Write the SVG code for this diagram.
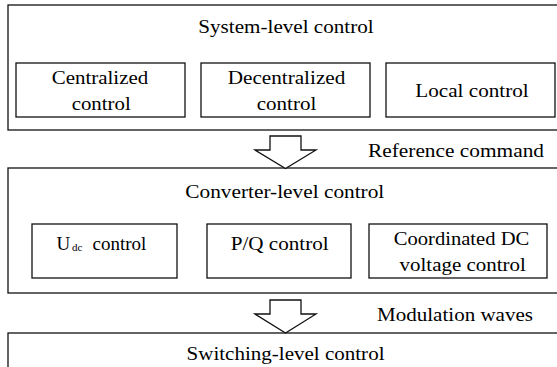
<svg xmlns="http://www.w3.org/2000/svg" width="557" height="367" viewBox="0 0 557 367">
<style>
rect{fill:none;stroke:#111;stroke-width:1.3}
.arr{fill:#fff;stroke:#111;stroke-width:1.3;stroke-linejoin:miter}
text{font-family:'Liberation Serif','Times New Roman',serif;font-size:19px;fill:#000}
.sub{font-size:11px}
</style>
<rect x="0" y="0" width="557" height="367" style="fill:#fff;stroke:none"/>
<g id="system-level">
<rect x="8" y="5" width="560" height="125"/>
<text x="198.3" y="33" textLength="175.4" lengthAdjust="spacingAndGlyphs">System-level control</text>
</g>
<g id="centralized">
<rect x="16" y="63" width="169" height="54"/>
<text x="51.7" y="84" textLength="96.6" lengthAdjust="spacingAndGlyphs">Centralized</text>
<text x="71.7" y="110" textLength="59" lengthAdjust="spacingAndGlyphs">control</text>
</g>
<g id="decentralized">
<rect x="201" y="63" width="169" height="54"/>
<text x="227.7" y="84" textLength="117.6" lengthAdjust="spacingAndGlyphs">Decentralized</text>
<text x="256.7" y="110" textLength="59.6" lengthAdjust="spacingAndGlyphs">control</text>
</g>
<g id="local">
<rect x="386" y="63" width="169" height="54"/>
<text x="415.3" y="97" textLength="113.4" lengthAdjust="spacingAndGlyphs">Local control</text>
</g>
<g id="converter-level">
<rect x="8" y="168" width="560" height="125"/>
<text x="185.3" y="198" textLength="199" lengthAdjust="spacingAndGlyphs">Converter-level control</text>
</g>
<g id="udc">
<rect x="32" y="224" width="145" height="54"/>
<text x="56.5" y="249.5">U<tspan class="sub" x="72" dy="1">dc</tspan><tspan x="92.5" dy="-1">control</tspan></text>
</g>
<g id="pq">
<rect x="207" y="224" width="144" height="54"/>
<text x="230.7" y="249.5" textLength="98" lengthAdjust="spacingAndGlyphs">P/Q control</text>
</g>
<g id="coordinated">
<rect x="369" y="224" width="178" height="54"/>
<text x="393.7" y="245" textLength="135.6" lengthAdjust="spacingAndGlyphs">Coordinated DC</text>
<text x="399.6" y="271" textLength="126.2" lengthAdjust="spacingAndGlyphs">voltage control</text>
</g>
<g id="switching-level">
<rect x="8" y="333" width="560" height="60"/>
<text x="186.5" y="360" textLength="198" lengthAdjust="spacingAndGlyphs">Switching-level control</text>
</g>
<g id="connectors">
<polygon class="arr" points="270,136 301,136 301,150 316,150 285.5,168.5 255,150 270,150"/>
<text x="368" y="157" textLength="176" lengthAdjust="spacingAndGlyphs">Reference command</text>
<polygon class="arr" points="270,300 301,300 301,314 316,314 285.5,333 255,314 270,314"/>
<text x="377" y="321" textLength="156" lengthAdjust="spacingAndGlyphs">Modulation waves</text>
</g>
</svg>
